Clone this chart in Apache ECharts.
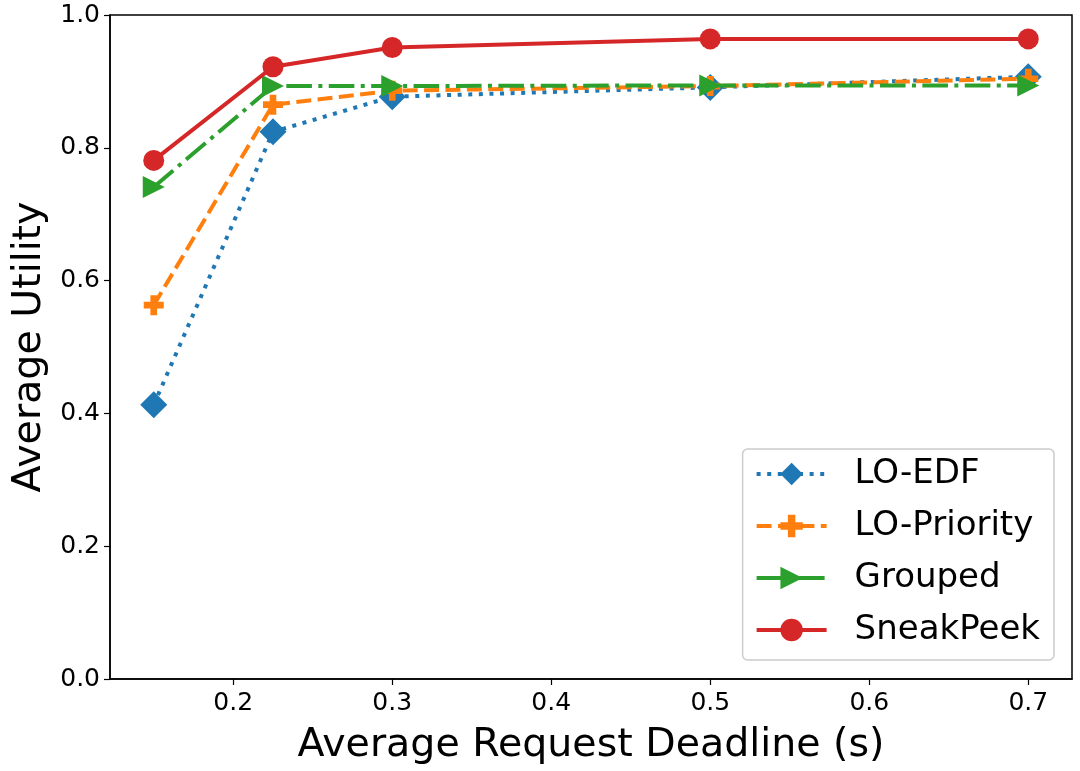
<!DOCTYPE html>
<html><head><meta charset="utf-8">
<script src="https://cdn.jsdelivr.net/npm/echarts@6/dist/echarts.min.js"></script>
<style>html,body{margin:0;padding:0;background:#fff}#c{width:1080px;height:771px}</style>
</head><body><div id="c"></div>
<script>
const deadlines = [0.15, 0.225, 0.3, 0.5, 0.7];
const loEdf = [0.413, 0.824, 0.877, 0.891, 0.907];
const loPriority = [0.563, 0.865, 0.886, 0.893, 0.904];
const grouped = [0.741, 0.893, 0.893, 0.894, 0.894];
const sneakPeek = [0.781, 0.922, 0.951, 0.964, 0.964];
const xTicks = [0.2, 0.3, 0.4, 0.5, 0.6, 0.7];
const yTicks = [0, 0.2, 0.4, 0.6, 0.8, 1.0];

const FONT = 'DejaVu Sans';
const plus = 'path://M-1,-3 L1,-3 L1,-1 L3,-1 L3,1 L1,1 L1,3 L-1,3 L-1,1 L-3,1 L-3,-1 L-1,-1 Z';
const pts = a => deadlines.map((x, i) => [x, a[i]]);
const styles = {
  'LO-EDF': {color: '#1f77b4', dash: [4, 6.6]},
  'LO-Priority': {color: '#ff7f0e', dash: [15, 6.4]},
  'Grouped': {color: '#2ca02c', dash: [25.6, 6.4, 4, 6.4]},
  'SneakPeek': {color: '#d62728', dash: 'solid'}
};
const legendData = Object.keys(styles).map(n => ({
  name: n,
  itemStyle: {color: styles[n].color},
  lineStyle: {color: styles[n].color, width: 4, type: styles[n].dash}
}));
const chart = echarts.init(document.getElementById('c'));
chart.setOption({
  animation: false,
  textStyle: {fontFamily: FONT},
  grid: {left: 110, right: 8, top: 15, bottom: 92, show: true, borderColor: '#000', borderWidth: 1.5, outerBoundsMode: 'none', containLabel: false},
  xAxis: {
    type: 'value', min: 0.1225, max: 0.7275,
    name: 'Average Request Deadline (s)', nameLocation: 'middle', nameGap: 47,
    nameTextStyle: {fontSize: 39.5, color: '#000', fontFamily: FONT},
    axisLine: {show: true, lineStyle: {color: '#000', width: 1.5}},
    axisTick: {show: true, length: 6, lineStyle: {color: '#000', width: 1.2}, customValues: xTicks},
    axisLabel: {fontSize: 25, color: '#000', margin: 12, customValues: xTicks, formatter: v => v.toFixed(1)},
    splitLine: {show: false}
  },
  yAxis: {
    type: 'value', min: 0, max: 1.0, interval: 0.2,
    name: 'Average Utility', nameLocation: 'middle', nameGap: 60,
    nameTextStyle: {fontSize: 39.5, color: '#000', fontFamily: FONT},
    axisLine: {show: true, lineStyle: {color: '#000', width: 1.5}},
    axisTick: {show: true, length: 6, lineStyle: {color: '#000', width: 1.2}},
    axisLabel: {fontSize: 25, color: '#000', margin: 10, formatter: v => v.toFixed(1)},
    splitLine: {show: false}
  },
  legend: {
    orient: 'vertical', right: 26, bottom: 111,
    padding: [8, 14, 13, 12],
    itemWidth: 70, itemHeight: 28, itemGap: 18,
    borderColor: '#cccccc', borderWidth: 1.5, borderRadius: 5,
    backgroundColor: '#fff',
    textStyle: {fontSize: 34, lineHeight: 34, color: '#000', fontFamily: FONT, padding: [0, 0, 0, 23]},
    data: legendData
  },
  series: [
    {name: 'LO-EDF', type: 'line', data: pts(loEdf), symbol: 'diamond', symbolSize: 27,
      color: styles['LO-EDF'].color, lineStyle: {width: 4, type: styles['LO-EDF'].dash}, z: 2},
    {name: 'LO-Priority', type: 'line', data: pts(loPriority), symbol: plus, symbolSize: 20,
      color: styles['LO-Priority'].color, lineStyle: {width: 4, type: styles['LO-Priority'].dash}, z: 3},
    {name: 'Grouped', type: 'line', data: pts(grouped), symbol: 'triangle', symbolRotate: -90, symbolSize: 22,
      color: styles['Grouped'].color, lineStyle: {width: 4, type: styles['Grouped'].dash}, z: 4},
    {name: 'SneakPeek', type: 'line', data: pts(sneakPeek), symbol: 'circle', symbolSize: 21,
      color: styles['SneakPeek'].color, lineStyle: {width: 4}, z: 5}
  ]
});
</script></body></html>
